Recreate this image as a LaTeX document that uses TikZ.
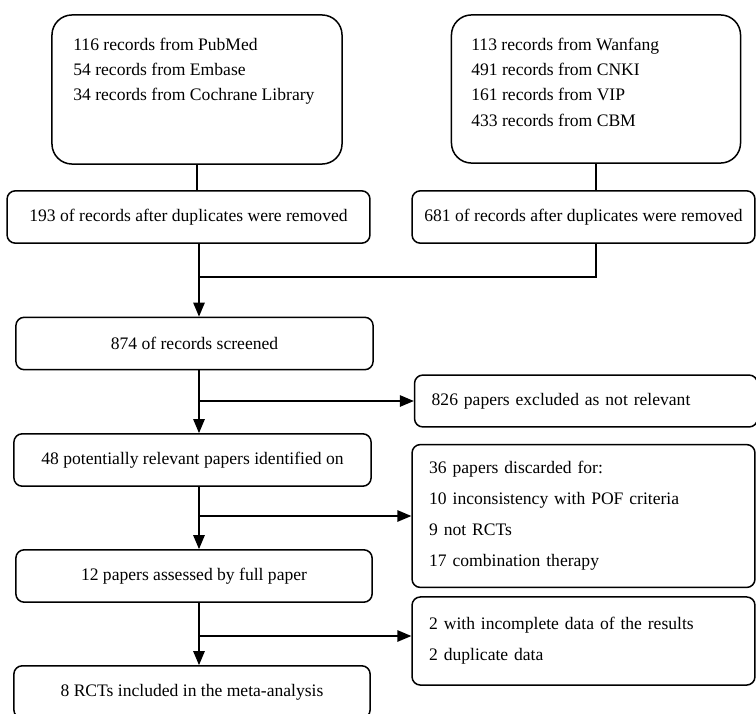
\documentclass[tikz,border=0pt]{standalone}
\usepackage{fontspec}
\setmainfont{Liberation Serif}
\usetikzlibrary{arrows,positioning,calc}

\tikzset{
  box/.style={draw, rounded corners=5pt, line width=0.9pt, inner sep=0pt,
    minimum height=1.1cm, font=\fontsize{10.5}{15}\selectfont},
  bigbox/.style={draw, rounded corners=12pt, line width=0.9pt, inner sep=0pt},
  sidebox/.style={box, inner xsep=0.36cm, text width=6.48cm, align=left,
    font=\fontsize{10.5}{18.5}\selectfont},
  list/.style={inner sep=0pt, align=left, anchor=north west,
    font=\fontsize{10.5}{15}\selectfont},
  line/.style={line width=0.9pt},
  arrow/.style={line width=0.9pt, -triangle 45},
}

\begin{document}
\begin{tikzpicture}[x=0.021cm, y=-0.021cm]
\useasboundingbox (0,0) rectangle (756,713);

% sources
\node[bigbox, minimum width=6.09cm, minimum height=3.13cm] (pubbox) at (197,89.5) {};
\node[list] (pubtxt) at (73,38) {116 records from PubMed\\54 records from Embase\\34 records from Cochrane Library};
\node[bigbox, minimum width=6.07cm, minimum height=3.11cm] (cnkibox) at (596,89) {};
\node[list] (cnkitxt) at (471,38) {113 records from Wanfang\\491 records from CNKI\\161 records from VIP\\433 records from CBM};

% duplicates removed
\node[box, minimum width=7.62cm] (dupA) at (188.5,217) {193 of records after duplicates were removed};
\node[box, minimum width=7.20cm] (dupB) at (583.5,217) {681 of records after duplicates were removed};

% main column
\node[box, minimum width=7.50cm] (screened) at (194.5,343.5) {874 of records screened};
\node[box, minimum width=7.50cm] (relevant) at (192.5,460) {48 potentially relevant papers identified on};
\node[box, minimum width=7.48cm] (assessed) at (194,576) {12 papers assessed by full paper};
\node[box, minimum width=7.48cm] (included) at (192,692) {8 RCTs included in the meta-analysis};

% exclusions
\node[sidebox, minimum height=1.09cm] (excl) at (586,401) {826 papers excluded as not relevant};
\node[sidebox, minimum height=3.0cm] (discard) at (583.5,516) {36 papers discarded for:\\10 inconsistency with POF criteria\\9 not RCTs\\17 combination therapy};
\node[sidebox, minimum height=1.85cm] (dropped) at (583.5,641) {2 with incomplete data of the results\\2 duplicate data};

% connectors
\coordinate (merge) at (199,277);
\draw[line] (pubbox.south) -- (dupA.north -| pubbox.south);
\draw[line] (cnkibox.south) -- (dupB.north -| cnkibox.south);
\draw[line] (dupA.south -| merge) -- (merge);
\draw[line] (dupB.south -| cnkibox.south) |- (merge);
\draw[arrow] (merge) -- (screened.north -| merge);

\coordinate (fork1) at (merge |- excl.west);
\coordinate (fork2) at (merge |- discard.west);
\coordinate (fork3) at ($(merge |- dropped.west)+(0,-5)$);
\draw[arrow] (screened.south -| merge) -- (relevant.north -| merge);
\draw[arrow] (fork1) -- (fork1 -| excl.west);
\draw[arrow] (relevant.south -| merge) -- (assessed.north -| merge);
\draw[arrow] (fork2) -- (fork2 -| discard.west);
\draw[arrow] (assessed.south -| merge) -- (included.north -| merge);
\draw[arrow] (fork3) -- (fork3 -| dropped.west);
\end{tikzpicture}
\end{document}
